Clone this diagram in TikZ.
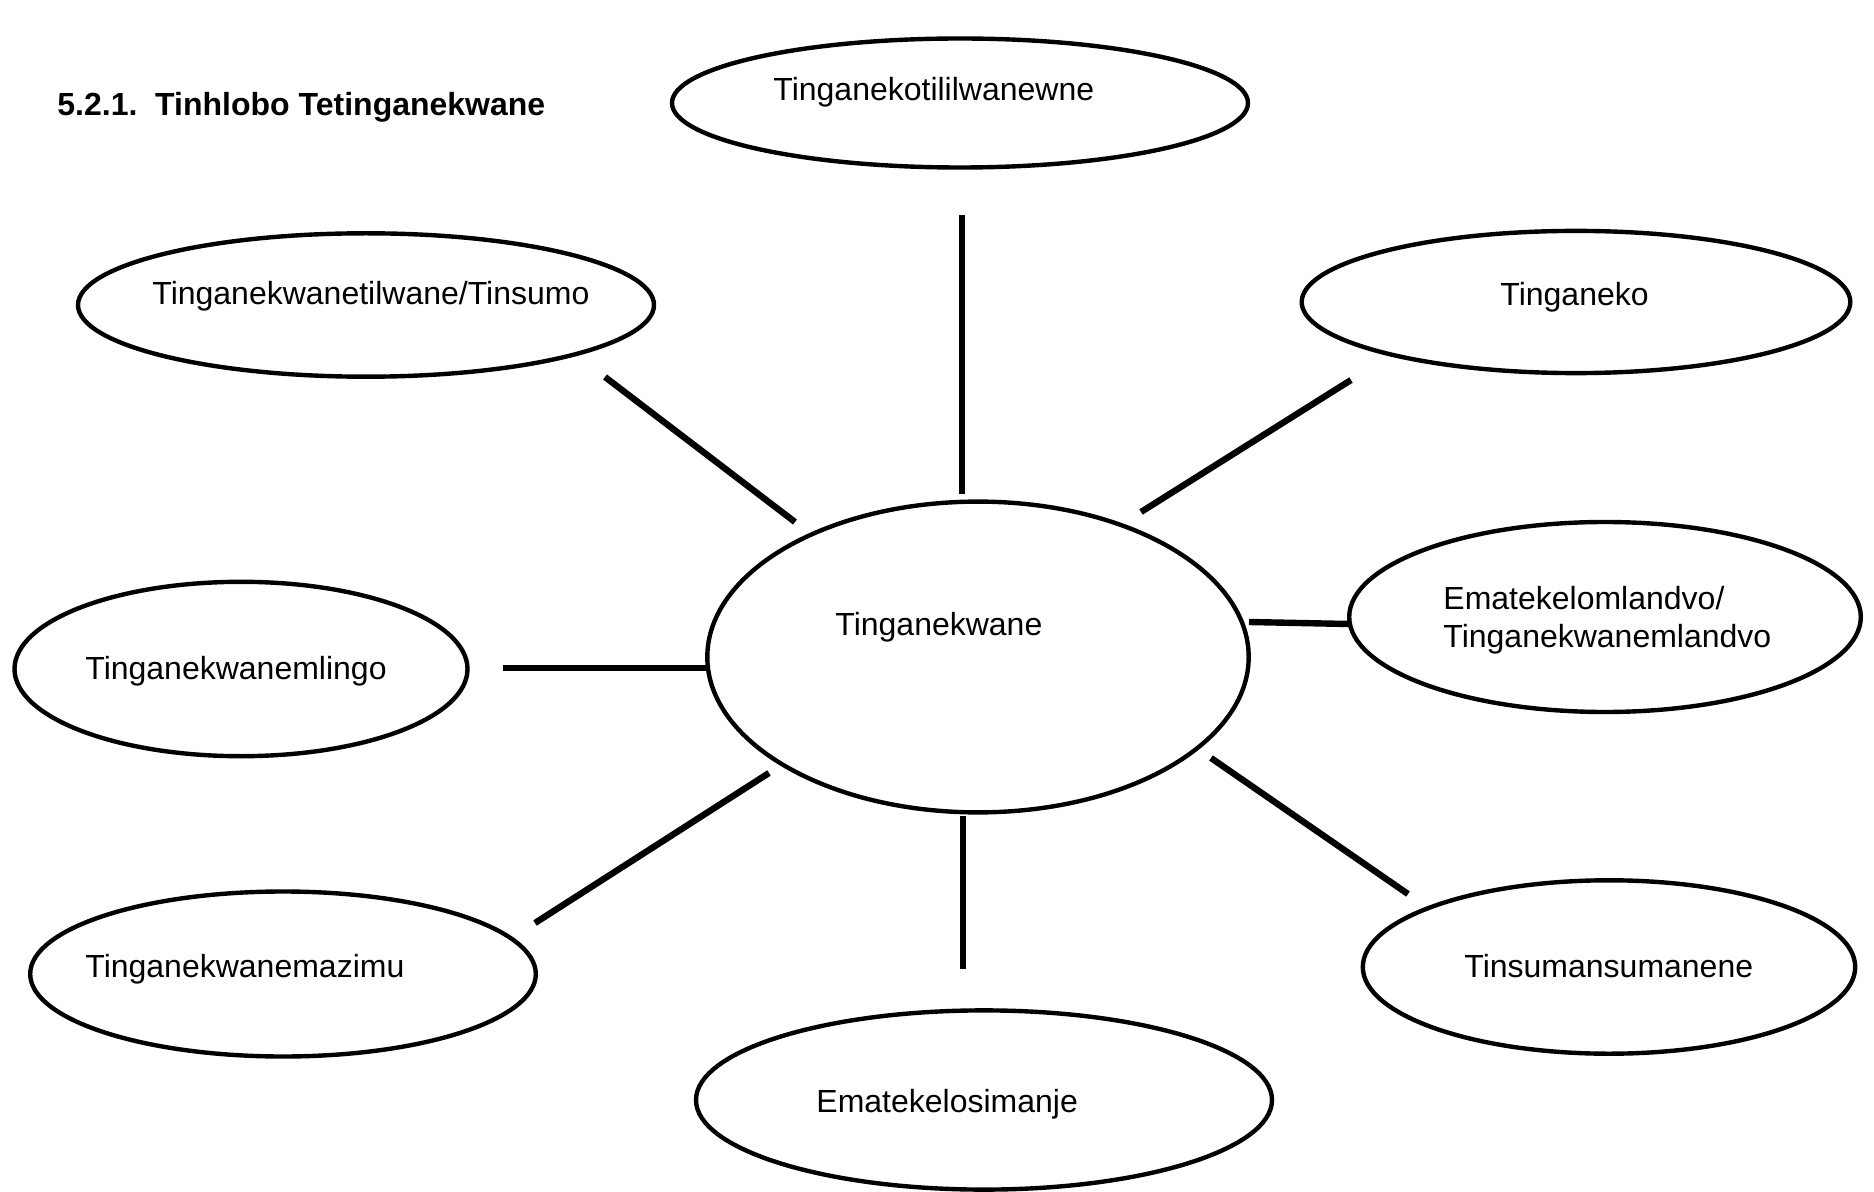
\documentclass[tikz,border=0pt]{standalone}
\usepackage{fontspec}
\setmainfont{Liberation Sans}
\usetikzlibrary{shapes.geometric}
\begin{document}
\begin{tikzpicture}[x=0.5pt,y=-0.5pt,
  bubble/.style={draw=black,line width=2.2pt,ellipse,inner sep=0pt,fill=white},
  lbl/.style={inner sep=0pt,anchor=base west,font=\fontsize{16}{19}\selectfont},
  spoke/.style={line width=3.2pt,black}]
\useasboundingbox (0,0) rectangle (1874,1192);
\fill[white] (0,0) rectangle (1874,1192);
% title
\node[lbl,font=\fontsize{16}{19}\selectfont\bfseries] (title) at (57,116) {5.2.1.\ \ Tinhlobo Tetinganekwane};
% ellipses
\node[bubble,minimum width=288pt,minimum height=64.5pt] (top) at (960,103) {};
\node[bubble,minimum width=288pt,minimum height=71.7pt] (ul) at (366,305) {};
\node[bubble,minimum width=274.3pt,minimum height=71.1pt] (ur) at (1576,302) {};
\node[bubble,minimum width=270.7pt,minimum height=155.4pt] (ctr) at (978,657) {};
\node[bubble,minimum width=255.8pt,minimum height=95pt] (rt) at (1605,617) {};
\node[bubble,minimum width=226.5pt,minimum height=87.2pt] (lt) at (241,669) {};
\node[bubble,minimum width=252.8pt,minimum height=82.5pt] (ll) at (283,974) {};
\node[bubble,minimum width=246.2pt,minimum height=86.7pt] (lr) at (1609,967) {};
\node[bubble,minimum width=288pt,minimum height=89.6pt] (bot) at (984,1100) {};
% labels
\node[lbl] (ttop) at (773,101) {Tinganekotililwanewne};
\node[lbl] (tul) at (152,305) {Tinganekwanetilwane/Tinsumo};
\node[lbl] (tur) at (1500,306) {Tinganeko};
\node[lbl] (tctr) at (835,635) {Tinganekwane};
\node[lbl] (trt1) at (1443,609) {Ematekelomlandvo/};
\node[lbl] (trt2) at (1443,647) {Tinganekwanemlandvo};
\node[lbl] (tlt) at (85,679) {Tinganekwanemlingo};
\node[lbl] (tll) at (85,977) {Tinganekwanemazimu};
\node[lbl] (tlr) at (1464,977) {Tinsumansumanene};
\node[lbl] (tbot) at (816,1112) {Ematekelosimanje};
% spoke end points
\coordinate (a1) at (962,215);  \coordinate (a2) at (962,494);
\coordinate (b1) at (605,377);  \coordinate (b2) at (795,522);
\coordinate (c1) at (1351,380); \coordinate (c2) at (1141,512);
\coordinate (d1) at (1249,622); \coordinate (d2) at (1349,624);
\coordinate (e1) at (503,668);  \coordinate (e2) at (708,668);
\coordinate (f1) at (769,773);  \coordinate (f2) at (535,923);
\coordinate (g1) at (963,816);  \coordinate (g2) at (963,969);
\coordinate (h1) at (1211,758); \coordinate (h2) at (1408,894);
\draw[spoke] (a1) -- (a2);
\draw[spoke] (b1) -- (b2);
\draw[spoke] (c1) -- (c2);
\draw[spoke] (d1) -- (d2);
\draw[spoke] (e1) -- (e2);
\draw[spoke] (f1) -- (f2);
\draw[spoke] (g1) -- (g2);
\draw[spoke] (h1) -- (h2);
\end{tikzpicture}
\end{document}
